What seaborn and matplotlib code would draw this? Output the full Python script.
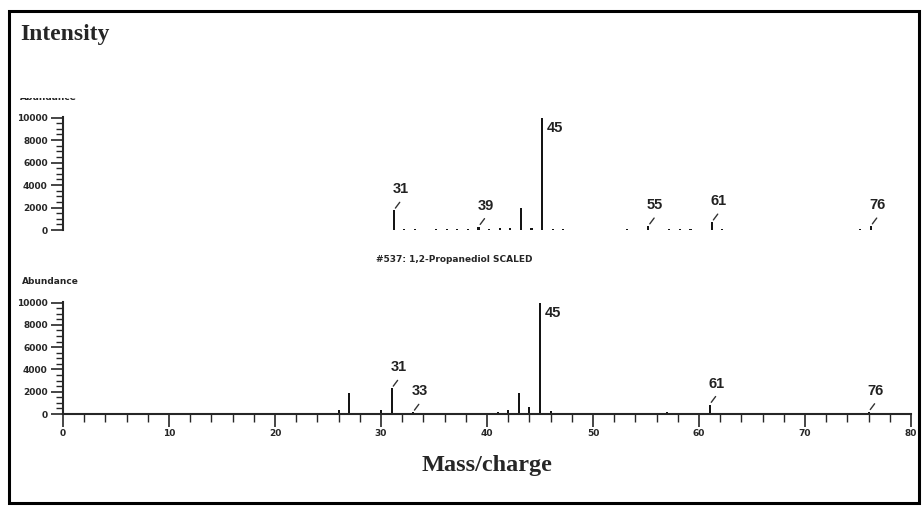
import matplotlib
matplotlib.use("Agg")
import matplotlib.pyplot as plt
from matplotlib.patches import Rectangle
from matplotlib.ticker import MultipleLocator
import seaborn as sns

# upper spectrum (measured)
top_mz = [31, 32, 33, 35, 36, 37, 38, 39, 40, 41, 42, 43, 44, 45, 46, 47,
          53, 55, 57, 58, 59, 61, 62, 75, 76]
top_ab = [1750, 100, 100, 80, 100, 100, 120, 300, 120, 150, 200, 1950, 150,
          10000, 120, 80, 80, 350, 100, 120, 100, 700, 100, 80, 350]
top_labels = [31, 39, 45, 55, 61, 76]

# lower spectrum (#537: 1,2-Propanediol library match)
bot_mz = [26, 27, 30, 31, 33, 37, 41, 42, 43, 44, 45, 46, 57, 61, 76]
bot_ab = [400, 1850, 350, 2300, 150, 100, 150, 350, 1850, 600, 10000, 300,
          200, 850, 200]
bot_labels = [31, 33, 45, 61, 76]

title = "#537: 1,2-Propanediol SCALED"
yticks = [0, 2000, 4000, 6000, 8000, 10000]
xticks = [0, 10, 20, 30, 40, 50, 60, 70, 80]

sns.set_style("ticks")
plt.rcParams["font.family"] = ["DejaVu Sans"]

W, H = 923, 508
fig = plt.figure(figsize=(W / 100, H / 100), dpi=100)
fig.patch.set_facecolor("white")


def fx(px):
    return px / W


def fy(py):
    return 1 - py / H


ax_top = fig.add_axes([fx(63), fy(230), fx(848), 113 / H])
ax_bot = fig.add_axes([fx(63), fy(414), fx(848), 112 / H])


def spectrum(ax, mz, ab, labels):
    sns.histplot(x=mz, weights=ab, discrete=True, shrink=0.2, color="#151515",
                 alpha=1, linewidth=0, ax=ax)
    ax.set_xlim(-0.2, 79.8)
    ax.set_ylim(0, 10050)
    ax.set_ylabel("")
    ax.set_xlabel("")
    ax.set_yticks(yticks)
    ax.yaxis.set_minor_locator(MultipleLocator(500))
    ax.tick_params(axis="y", which="major", length=9, width=1.2, pad=2,
                   labelsize=6.5)
    ax.tick_params(axis="y", which="minor", length=5, width=1.0)
    for t in ax.get_yticklabels():
        t.set_fontweight("bold")
    ax.spines["left"].set_linewidth(1.5)
    sns.despine(ax=ax)
    heights = dict(zip(mz, ab))
    for m in labels:
        h = heights[m]
        if h >= 9000:
            ax.annotate(str(m), xy=(m, h), xytext=(5, -10),
                        textcoords="offset pixels", ha="left", va="center",
                        fontsize=10.5, fontweight="bold",
                        family="Liberation Sans", color="#222")
        else:
            ax.annotate("", xy=(m, h), xytext=(6, 8),
                        textcoords="offset pixels",
                        arrowprops=dict(arrowstyle="-", lw=1.0, color="#333",
                                        shrinkA=0, shrinkB=2))
            ax.annotate(str(m), xy=(m, h), xytext=(7, 21),
                        textcoords="offset pixels", ha="center", va="center",
                        fontsize=10.5, fontweight="bold",
                        family="Liberation Sans", color="#222")


spectrum(ax_top, top_mz, top_ab, top_labels)
ax_top.spines["bottom"].set_visible(False)
ax_top.set_xticks([])

spectrum(ax_bot, bot_mz, bot_ab, bot_labels)
ax_bot.set_xlim(0, 80)
ax_bot.set_xticks(xticks)
ax_bot.xaxis.set_minor_locator(MultipleLocator(2))
ax_bot.spines["bottom"].set_linewidth(1.5)
ax_bot.tick_params(axis="x", which="major", length=9, width=1.2, pad=2,
                   labelsize=6.5)
ax_bot.tick_params(axis="x", which="minor", length=6, width=1.0)
for t in ax_bot.get_xticklabels():
    t.set_fontweight("bold")

# texts
fig.text(fx(20), fy(40), "Intensity", ha="left", va="baseline",
         family="Liberation Serif", fontweight="bold", fontsize=17)
fig.text(fx(487), fy(471), "Mass/charge", ha="center", va="baseline",
         family="Liberation Serif", fontweight="bold", fontsize=17.5)
fig.text(fx(454), fy(260), title, ha="center", va="center",
         fontweight="bold", fontsize=6.5)
fig.text(fx(22), fy(284), "Abundance", ha="left", va="baseline",
         fontweight="bold", fontsize=6.5)
fig.text(fx(20), fy(100), "Abundance", ha="left", va="baseline",
         fontweight="bold", fontsize=6.5)
# the upper label is cut off in the source picture
fig.add_artist(Rectangle((fx(15), fy(97.5)), fx(80), 10 / H, facecolor="white",
                         edgecolor="none", transform=fig.transFigure, zorder=5))

# outer frame
fig.add_artist(Rectangle((fx(9), fy(503)), fx(910), (503 - 11) / H, fill=False,
                         lw=2.2, edgecolor="black", transform=fig.transFigure))

fig.savefig("out.png", dpi=100, facecolor="white")
